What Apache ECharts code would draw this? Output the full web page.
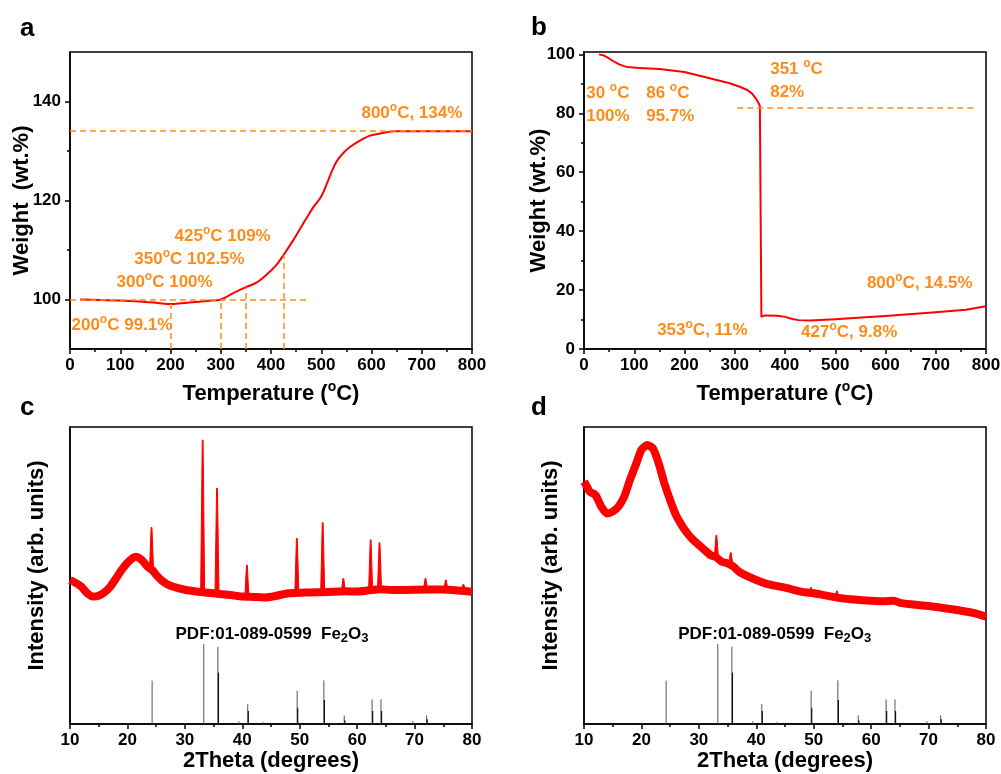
<!DOCTYPE html>
<html>
<head>
<meta charset="utf-8">
<script src="https://cdn.jsdelivr.net/npm/echarts@6/dist/echarts.min.js"></script>
<style>
  html, body { margin: 0; padding: 0; background: #fff; }
  #chart { width: 1001px; height: 774px; }
</style>
</head>
<body>
<div id="chart"></div>
<script>
// ---- (a) TGA of the iron-containing sample: temperature (°C) vs weight (wt.%) ----
const tgaA_temp   = [20, 60, 100, 150, 175, 200, 225, 250, 275, 300, 325, 350, 371, 391, 411, 425, 445, 458, 471, 484, 500, 512, 524, 534, 544, 557, 577, 597, 615, 630, 645, 700, 800];
const tgaA_weight = [100, 99.9, 99.8, 99.5, 99.3, 99.1, 99.3, 99.5, 99.75, 100, 101.3, 102.5, 103.4, 105, 107, 109, 112.1, 114.3, 116.5, 118.6, 120.8, 123.6, 126.6, 128.4, 129.6, 130.8, 132.1, 133.1, 133.5, 133.8, 134, 134, 134];
// marked points on curve (a)
const markA_temp   = [200, 300, 350, 425];
const markA_weight = [99.1, 100, 102.5, 109];
const plateauA     = 134;

// ---- (b) TGA of the organic sample ----
const tgaB_temp   = [30, 40, 50, 60, 70, 80, 86, 110, 150, 200, 250, 290, 310, 325, 335, 342, 347, 350, 351, 353, 360, 385, 400, 415, 427, 450, 500, 560, 600, 700, 760, 800];
const tgaB_weight = [100, 99.6, 98.6, 97.5, 96.6, 96.0, 95.7, 95.4, 95.0, 94.0, 91.9, 90.2, 89.0, 87.9, 86.6, 85.0, 83.6, 82.5, 82, 11, 11.4, 11.3, 10.9, 10.2, 9.8, 9.7, 10.1, 10.8, 11.2, 12.5, 13.3, 14.5];
const markB_weight = 82;

// ---- (c) XRD pattern, 2θ (degrees) vs intensity (arb. units): broad background ----
const xrdC_theta = [10, 11, 12, 13, 14, 15, 16, 17, 18, 19, 20, 21, 21.5, 22.5, 23.5, 24.5, 25, 26, 27, 28, 30, 32, 34, 36, 38, 40, 42, 44, 46, 48, 50, 52, 54, 56, 58, 60, 62, 64, 66, 70, 75, 80];
const xrdC_int   = [48.5, 47.5, 46.2, 44, 42.9, 43.2, 44.3, 46.2, 49, 51.9, 54.3, 56, 56.3, 55.2, 53, 51.5, 50.2, 48.3, 47, 46.2, 45.2, 44.6, 44.2, 43.8, 43.4, 42.9, 42.8, 42.6, 43.2, 44, 44.2, 44.3, 44.4, 44.5, 44.7, 44.6, 45, 45.4, 45.1, 45.2, 45.3, 44.5];
// (c) sharp reflections: position, apex, foot
const peaksC_theta = [24.2, 33.1, 35.6, 40.8, 49.5, 54.0, 57.6, 62.35, 63.9, 71.9, 75.45, 78.5];
const peaksC_top   = [66.2, 95.6, 79.4, 53.5, 62.5, 67.8, 49, 62, 61, 49, 48.5, 47];
const peaksC_foot  = [52, 44.5, 44, 43, 44.2, 44.4, 44.8, 45.2, 45.4, 45.3, 45.3, 45.2];

// ---- (d) XRD pattern: broad background ----
const xrdD_theta = [10, 10.5, 11, 12, 13, 14, 15, 16, 17, 18, 19, 20, 21, 22, 23, 24, 25, 26, 27, 28, 29, 30, 31, 32, 33, 34, 35, 36, 37, 38, 40, 42, 45, 48, 50, 52, 55, 57, 60, 62, 64, 65, 67, 70, 72, 75, 78, 80];
const xrdD_int   = [81.6, 80, 78.2, 77.1, 73.2, 70.9, 71.5, 73.2, 76.5, 82.2, 87.2, 92.3, 93.9, 92.8, 87.8, 81, 75.4, 70.4, 67, 64.2, 62, 60.3, 58.6, 56.9, 56.2, 54.6, 54.1, 53, 51.3, 50.2, 48.5, 47.1, 45.9, 44.5, 44, 43.3, 42.3, 41.9, 41.5, 41.3, 41.5, 40.8, 40.3, 39.7, 39.2, 38.4, 37.3, 36.1];
// (d) weak reflections
const peaksD_theta = [33.05, 35.55, 49.5, 54.05];
const peaksD_top   = [63.5, 57.7, 46, 44.8];
const peaksD_foot  = [56.3, 53.8, 44.1, 42.5];

// ---- Reference pattern PDF 01-089-0599 (Fe2O3), stick lines ----
const pdf_theta   = [24.3, 33.3, 35.75, 39.4, 40.95, 43.6, 49.55, 54.2, 56.3, 57.75, 62.6, 64.15, 69.7, 72.1];
const pdf_height  = [14.6, 26.9, 26.0, 0.9, 6.7, 0.7, 11.2, 14.7, 0.4, 2.9, 8.3, 8.3, 1.0, 2.9];
const pdf2_theta  = [35.85, 41.05, 49.65, 54.3, 57.85, 62.7, 64.25, 72.2];
const pdf2_height = [17.3, 4.4, 5.5, 8.1, 1.3, 4.4, 4.4, 1.6];

// ---- axis tick values ----
const weightTicksA = [100, 120, 140];
const weightMinorA = [110, 130];
const weightTicksB = [0, 20, 40, 60, 80, 100];
const weightMinorB = [10, 30, 50, 70, 90];

const FONT = "'Liberation Sans', Arial, sans-serif";
const RED = '#ff0000';
const ORANGE = '#ff8c1a';
const INK = '#000000';

const zip = (xs, ys) => xs.map((x, i) => [x, ys[i]]);

const textRich = (color, size, smallSize, lh) => ({
  n: { fontFamily: FONT, fontWeight: 'bold', fontSize: size, color: color, lineHeight: lh },
  s: { fontFamily: FONT, fontWeight: 'bold', fontSize: smallSize, color: color, verticalAlign: 'top', lineHeight: 9 },
  u: { fontFamily: FONT, fontWeight: 'bold', fontSize: smallSize, color: color, verticalAlign: 'bottom', lineHeight: 8 }
});

// fixed plot rectangles; labels and names may extend past the canvas edge
const grids = [
  { left: 70,  top: 52,  width: 402, height: 297 },
  { left: 584, top: 52,  width: 402, height: 297 },
  { left: 70,  top: 427, width: 402, height: 297 },
  { left: 584, top: 427, width: 402, height: 297 }
].map(g => Object.assign({
  show: true, borderColor: INK, borderWidth: 1.5, backgroundColor: 'transparent',
  containLabel: false, outerBoundsMode: 'none'
}, g));

const axisLine = { show: true, onZero: false, lineStyle: { color: INK, width: 1.5 } };
const tickLabel = { color: INK, fontFamily: FONT, fontWeight: 'bold', fontSize: 17 };
const nameStyle = {
  color: INK, fontFamily: FONT, fontWeight: 'bold', fontSize: 22, lineHeight: 28,
  rich: { s: { fontFamily: FONT, fontWeight: 'bold', fontSize: 14, color: INK, verticalAlign: 'top', lineHeight: 10 } }
};

function xAxisTemp(gi) {
  return {
    type: 'value', gridIndex: gi, min: 0, max: 800, interval: 100, position: 'bottom',
    axisLine: axisLine,
    axisTick: { show: true, inside: false, length: 5, lineStyle: { color: INK, width: 1.5 } },
    minorTick: { show: true, splitNumber: 2, length: 3, lineStyle: { color: INK, width: 1.5 } },
    axisLabel: Object.assign({ margin: 8 }, tickLabel),
    splitLine: { show: false }, minorSplitLine: { show: false },
    name: 'Temperature ({s|o}C)', nameLocation: 'middle', nameGap: 31, nameMoveOverlap: false, nameTextStyle: nameStyle
  };
}
function xAxisTheta(gi) {
  return {
    type: 'value', gridIndex: gi, min: 10, max: 80, interval: 10, position: 'bottom',
    axisLine: axisLine,
    axisTick: { show: true, inside: false, length: 5, lineStyle: { color: INK, width: 1.5 } },
    minorTick: { show: true, splitNumber: 2, length: 3, lineStyle: { color: INK, width: 1.5 } },
    axisLabel: Object.assign({ margin: 8 }, tickLabel),
    splitLine: { show: false }, minorSplitLine: { show: false },
    name: '2Theta (degrees)', nameLocation: 'middle', nameGap: 23, nameMoveOverlap: false, nameTextStyle: nameStyle
  };
}
function yAxisWeight(gi, min, max, ticks, name, gap) {
  return {
    type: 'value', gridIndex: gi, min: min, max: max, position: 'left',
    axisLine: axisLine,
    axisTick: { show: true, inside: false, length: 5, customValues: ticks, lineStyle: { color: INK, width: 1.5 } },
    axisLabel: Object.assign({ margin: 9, customValues: ticks }, tickLabel),
    splitLine: { show: false },
    name: name, nameLocation: 'middle', nameGap: gap, nameMoveOverlap: false, nameTextStyle: nameStyle
  };
}
function yAxisMinor(gi, min, max, ticks) {
  return {
    type: 'value', gridIndex: gi, min: min, max: max, position: 'left', offset: 0,
    axisLine: { show: false },
    axisTick: { show: true, inside: false, length: 3, customValues: ticks, lineStyle: { color: INK, width: 1.5 } },
    axisLabel: { show: false, customValues: ticks },
    splitLine: { show: false }
  };
}
function yAxisIntensity(gi, gap) {
  return {
    type: 'value', gridIndex: gi, min: 0, max: 100, position: 'left',
    axisLine: axisLine, axisTick: { show: false }, axisLabel: { show: false }, splitLine: { show: false },
    name: 'Intensity (arb. units)', nameLocation: 'middle', nameGap: gap, nameMoveOverlap: false,
    nameTextStyle: Object.assign({}, nameStyle, { padding: [0, 0, 0, 20] })
  };
}

// text placed at data coordinates (left edge, vertical middle)
function notes(xi, yi, color, size, smallSize, lh, items) {
  return {
    type: 'scatter', xAxisIndex: xi, yAxisIndex: yi, symbolSize: 1, silent: true, z: 6,
    itemStyle: { color: 'rgba(0,0,0,0)', opacity: 1 },
    data: items.map(it => ({ value: [it[0], it[1]], label: { formatter: it[2] } })),
    label: { show: true, opacity: 1, position: [0, 0], align: 'left', verticalAlign: 'middle', rich: textRich(color, size, smallSize, lh) }
  };
}

// reference-pattern sticks from the baseline up to the listed height
function sticks(xi, yi, theta, height, color, width) {
  return {
    type: 'custom', xAxisIndex: xi, yAxisIndex: yi, silent: true, z: 3,
    data: zip(theta, height),
    renderItem: (params, api) => {
      const p0 = api.coord([api.value(0), 0]);
      const p1 = api.coord([api.value(0), api.value(1)]);
      return { type: 'line', shape: { x1: p0[0], y1: p0[1], x2: p1[0], y2: p1[1] }, style: { stroke: color, lineWidth: width } };
    }
  };
}

// narrow diffraction spikes rising from the background trace
function spikes(xi, yi, theta, top, foot) {
  return {
    type: 'custom', xAxisIndex: xi, yAxisIndex: yi, silent: true, z: 5,
    data: theta.map((t, i) => [t, top[i], foot[i]]),
    renderItem: (params, api) => {
      const t = api.value(0), hi = api.value(1), lo = api.value(2);
      const pts = [
        api.coord([t - 0.35, lo]), api.coord([t - 0.07, hi]),
        api.coord([t + 0.07, hi]), api.coord([t + 0.35, lo])
      ];
      return { type: 'polygon', shape: { points: pts }, style: { fill: RED, stroke: RED, lineWidth: 1 } };
    }
  };
}

const dashed = { color: ORANGE, width: 1.5, type: [6, 4] };
const letterFont = "bold 26px 'Liberation Sans', Arial, sans-serif";

const option = {
  animation: false,
  backgroundColor: '#ffffff',
  textStyle: { fontFamily: FONT },
  grid: grids,
  xAxis: [xAxisTemp(0), xAxisTemp(1), xAxisTheta(2), xAxisTheta(3)],
  yAxis: [
    yAxisWeight(0, 90, 150, weightTicksA, 'Weight  (wt.%)', 34),
    yAxisWeight(1, 0, 100.8, weightTicksB, 'Weight (wt.%)', 31),
    yAxisIntensity(2, 19),
    yAxisIntensity(3, 19),
    yAxisMinor(0, 90, 150, weightMinorA),
    yAxisMinor(1, 0, 100.8, weightMinorB)
  ],
  graphic: [
    { type: 'text', left: 20, top: 16, style: { text: 'a', font: letterFont, fill: INK } },
    { type: 'text', left: 531, top: 15, style: { text: 'b', font: letterFont, fill: INK } },
    { type: 'text', left: 20, top: 395, style: { text: 'c', font: letterFont, fill: INK } },
    { type: 'text', left: 531, top: 395, style: { text: 'd', font: letterFont, fill: INK } }
  ],
  series: [
    {
      type: 'line', xAxisIndex: 0, yAxisIndex: 0, data: zip(tgaA_temp, tgaA_weight),
      smooth: 0.35, symbol: 'none', z: 4,
      lineStyle: { color: RED, width: 2 },
      markLine: {
        silent: true, symbol: 'none', label: { show: false }, lineStyle: dashed,
        data: [
          [{ coord: [0, plateauA] }, { coord: [800, plateauA] }],
          [{ coord: [0, 100] }, { coord: [475, 100] }]
        ].concat(markA_temp.map((t, i) => [{ coord: [t, 90] }, { coord: [t, markA_weight[i]] }]))
      }
    },
    {
      type: 'line', xAxisIndex: 1, yAxisIndex: 1, data: zip(tgaB_temp, tgaB_weight),
      smooth: false, symbol: 'none', z: 4,
      lineStyle: { color: RED, width: 2, join: 'round' },
      markLine: {
        silent: true, symbol: 'none', label: { show: false }, lineStyle: dashed,
        data: [[{ coord: [305, markB_weight] }, { coord: [780, markB_weight] }]]
      }
    },
    {
      type: 'line', xAxisIndex: 2, yAxisIndex: 2, data: zip(xrdC_theta, xrdC_int),
      smooth: 0.2, symbol: 'none', z: 4, lineStyle: { color: RED, width: 8, join: 'round', cap: 'butt' }
    },
    {
      type: 'line', xAxisIndex: 3, yAxisIndex: 3, data: zip(xrdD_theta, xrdD_int),
      smooth: 0.2, symbol: 'none', z: 4, lineStyle: { color: RED, width: 8, join: 'round', cap: 'butt' }
    },
    spikes(2, 2, peaksC_theta, peaksC_top, peaksC_foot),
    spikes(3, 3, peaksD_theta, peaksD_top, peaksD_foot),
    sticks(2, 2, pdf_theta, pdf_height, '#555555', 1),
    sticks(2, 2, pdf2_theta, pdf2_height, '#111111', 1.2),
    sticks(3, 3, pdf_theta, pdf_height, '#555555', 1),
    sticks(3, 3, pdf2_theta, pdf2_height, '#111111', 1.2),
    notes(0, 0, ORANGE, 17, 12, 23, [
      [581, 137.6, '{n|800}{s|o}{n|C, 134%}'],
      [209, 112.6, '{n|425}{s|o}{n|C 109%}'],
      [129, 108.0, '{n|350}{s|o}{n|C 102.5%}'],
      [93.5, 103.4, '{n|300}{s|o}{n|C 100%}'],
      [4, 94.7, '{n|200}{s|o}{n|C 99.1%}']
    ]),
    notes(1, 1, ORANGE, 17, 12, 23, [
      [371.5, 91, '{n|351 }{s|o}{n|C}\n{n|82%}'],
      [5.4, 82.7, '{n|30 }{s|o}{n|C}\n{n|100%}'],
      [124.8, 82.7, '{n|86 }{s|o}{n|C}\n{n|95.7%}'],
      [564, 22, '{n|800}{s|o}{n|C, 14.5%}'],
      [146.6, 6.1, '{n|353}{s|o}{n|C, 11%}'],
      [433, 5.4, '{n|427}{s|o}{n|C, 9.8%}']
    ]),
    notes(2, 2, INK, 17, 13, 22, [[28.46, 30, '{n|PDF:01-089-0599  Fe}{u|2}{n|O}{u|3}']]),
    notes(3, 3, INK, 17, 13, 22, [[26.5, 30, '{n|PDF:01-089-0599  Fe}{u|2}{n|O}{u|3}']])
  ]
};

const chart = echarts.init(document.getElementById('chart'), null, { renderer: 'canvas' });
chart.setOption(option);
</script>
</body>
</html>
